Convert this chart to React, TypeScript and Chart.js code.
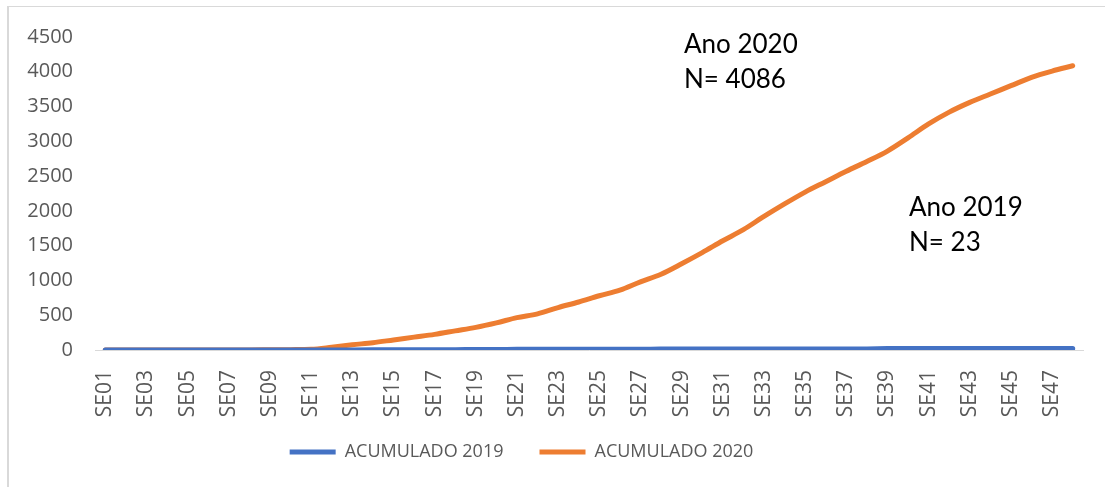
import React, { useEffect, useRef } from "react";
import { Chart, registerables } from "chart.js";

Chart.register(...registerables);

const categories = [
  "SE01","SE02","SE03","SE04","SE05","SE06","SE07","SE08","SE09","SE10",
  "SE11","SE12","SE13","SE14","SE15","SE16","SE17","SE18","SE19","SE20",
  "SE21","SE22","SE23","SE24","SE25","SE26","SE27","SE28","SE29","SE30",
  "SE31","SE32","SE33","SE34","SE35","SE36","SE37","SE38","SE39","SE40",
  "SE41","SE42","SE43","SE44","SE45","SE46","SE47","SE48",
];

const acumulado2019 = [
  0, 0, 0, 0, 0, 0, 0, 0, 0, 0, 0, 0,
  1, 2, 3, 4, 5, 5, 6, 6,
  10, 10, 11, 11, 12, 12, 12, 13, 13, 13, 14, 14, 14, 15, 15, 15, 16, 16,
  20, 20, 21, 21, 21, 22, 22, 22, 23, 23,
];

const acumulado2020 = [
  0, 0, 0, 0, 0, 0, 0, 1, 3, 5, 10, 40, 75, 105, 145, 185, 225, 275, 325, 390,
  465, 520, 610, 690, 780, 860, 980, 1090, 1240, 1400, 1570, 1730, 1920, 2100,
  2270, 2420, 2570, 2710, 2860, 3050, 3250, 3420, 3560, 3680, 3800, 3920, 4010, 4086,
];

const yTicks = [0, 500, 1000, 1500, 2000, 2500, 3000, 3500, 4000, 4500];

const seriesNames = ["ACUMULADO 2019", "ACUMULADO 2020"];
const annotations = [
  { lines: ["Ano 2020", "N= 4086"], left: 684, top: 26 },
  { lines: ["Ano 2019", "N= 23"], left: 909, top: 189 },
];

const BLUE = "#4472C4";
const ORANGE = "#ED7D31";
const GRAY = "#595959";
const FONT = "'Open Sans'";

const legendShift = {
  id: "legendShift",
  afterLayout(chart: any) {
    const lg = chart.legend;
    if (lg) {
      lg.left -= 20;
      lg.right -= 20;
      lg.top -= 13;
      lg.bottom -= 13;
    }
  },
};

export default function App() {
  const canvasRef = useRef<HTMLCanvasElement | null>(null);

  useEffect(() => {
    let chart: Chart | null = null;
    let cancelled = false;

    const build = () => {
      const canvas = canvasRef.current;
      if (!canvas || cancelled) return;
      chart = new Chart(canvas, {
        type: "line",
        plugins: [legendShift],
        data: {
          labels: categories,
          datasets: [
            {
              label: seriesNames[0],
              data: acumulado2019,
              borderColor: BLUE,
              backgroundColor: BLUE,
              borderWidth: 5,
              pointRadius: 0,
              pointStyle: "line",
              borderCapStyle: "round",
              borderJoinStyle: "round",
              cubicInterpolationMode: "monotone",
            },
            {
              label: seriesNames[1],
              data: acumulado2020,
              borderColor: ORANGE,
              backgroundColor: ORANGE,
              borderWidth: 5,
              pointRadius: 0,
              pointStyle: "line",
              borderCapStyle: "round",
              borderJoinStyle: "round",
              cubicInterpolationMode: "monotone",
            },
          ],
        },
        options: {
          animation: false,
          responsive: false,
          maintainAspectRatio: false,
          layout: { padding: { top: 37, right: 22, left: 0, bottom: 3 } },
          plugins: {
            tooltip: { enabled: false },
            legend: {
              position: "bottom",
              labels: {
                usePointStyle: true,
                pointStyle: "line",
                pointStyleWidth: 46,
                boxHeight: 5,
                color: GRAY,
                font: { family: FONT, size: 18 },
                padding: 36,
              },
            },
          },
          scales: {
            x: {
              offset: true,
              grid: { display: false, drawTicks: false },
              border: { display: true, color: "#d9d9d9", width: 1 },
              ticks: {
                autoSkip: false,
                maxRotation: 90,
                minRotation: 90,
                color: GRAY,
                padding: 20,
                font: { family: FONT, size: 21 },
                callback: (_v: any, i: number) => (i % 2 === 0 ? categories[i] : ""),
              },
              afterFit: (scale: any) => {
                scale.height = 70;
                scale.paddingLeft = 0;
                scale.paddingRight = 0;
              },
            },
            y: {
              min: 0,
              max: 4500,
              grid: { display: false, drawTicks: false },
              border: { display: false },
              afterBuildTicks: (scale: any) => {
                scale.ticks = yTicks.map((v) => ({ value: v }));
              },
              ticks: {
                color: GRAY,
                padding: 22,
                font: { family: FONT, size: 20 },
                callback: (v: any) => String(v),
              },
              afterFit: (scale: any) => {
                scale.width = 95;
                scale.paddingTop = 0;
                scale.paddingBottom = 0;
              },
            },
          },
        },
      });
    };

    const fonts = (document as any).fonts;
    if (fonts && fonts.load) {
      Promise.all([
        fonts.load("20px 'Open Sans'"),
        fonts.load("18px 'Open Sans'"),
      ])
        .catch(() => null)
        .then(() => build());
    } else {
      build();
    }

    return () => {
      cancelled = true;
      if (chart) chart.destroy();
    };
  }, []);

  return (
    <div style={{ position: "absolute", left: 0, top: 0, width: 1105, height: 487, background: "#fff", overflow: "hidden" }}>
      <div
        style={{
          position: "absolute",
          left: 7,
          top: 6,
          width: 1200,
          height: 600,
          borderTop: "1px solid #d9d9d9",
          borderLeft: "2px solid #d9d9d9",
        }}
      />
      <canvas ref={canvasRef} width={1105} height={487} style={{ position: "absolute", left: 0, top: 0 }} />
      {annotations.map((a, k) => (
        <div
          key={k}
          style={{
            position: "absolute",
            left: a.left,
            top: a.top,
            fontFamily: "Lato, 'Open Sans', sans-serif",
            fontSize: 26,
            lineHeight: "35px",
            color: "#000",
            whiteSpace: "nowrap",
          }}
        >
          {a.lines.map((l, j) => (
            <div key={j}>{l}</div>
          ))}
        </div>
      ))}
    </div>
  );
}
